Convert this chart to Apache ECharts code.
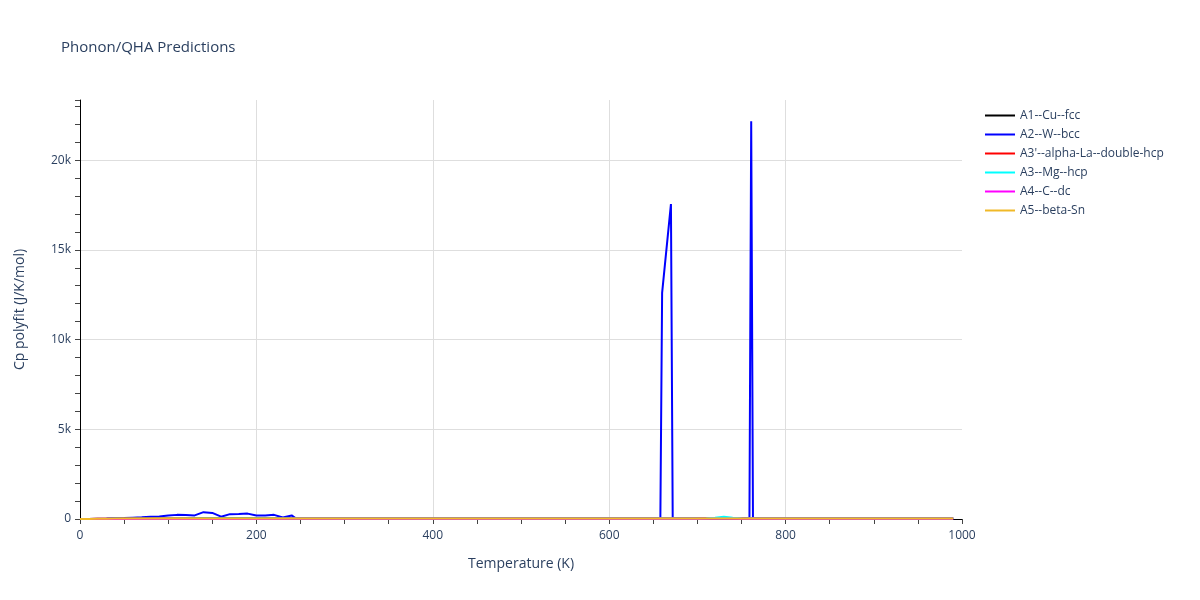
<!DOCTYPE html>
<html>
<head>
<meta charset="utf-8">
<script src="https://cdn.jsdelivr.net/npm/echarts@6/dist/echarts.min.js"></script>
<style>html,body{margin:0;padding:0;background:#fff}#c{width:1200px;height:600px}</style>
</head>
<body>
<div id="c"></div>
<script>
// ---- data ----
const seriesNames = ['A1--Cu--fcc', 'A2--W--bcc', "A3'--alpha-La--double-hcp", 'A3--Mg--hcp', 'A4--C--dc', 'A5--beta-Sn'];
const seriesColors = ['#000000', '#0000ff', '#ff0000', '#00ffff', '#ff00ff', '#f0b928'];

// common temperature grid for the smooth curves (K)
const tGrid = [0, 10, 20, 30, 40, 50, 75, 100, 150, 200, 250, 300, 350, 400, 450, 500, 550, 600, 650, 700, 710, 720, 730, 740, 750, 800, 850, 900, 950, 990];
const cpCu  = [0, 0.5, 2, 5, 8.5, 11.5, 16.5, 19.5, 22, 23.3, 24, 24.5, 24.9, 25.2, 25.5, 25.8, 26.1, 26.4, 26.7, 27, 27.1, 27.2, 27.3, 27.3, 27.4, 27.7, 28, 28.3, 28.6, 28.8];
const cpLa  = [0, 4, 11, 16, 19, 21, 23.5, 24.5, 25.5, 26, 26.5, 27, 27.3, 27.7, 28, 28.5, 29, 30, 32, 45, 55, 60, 50, 40, 34, 30, 30.5, 31, 31.5, 32];
const cpMg  = [0, 0.3, 1.5, 4, 7, 10, 15, 18.5, 21.5, 23, 23.8, 24.4, 24.9, 25.3, 25.7, 26.1, 26.5, 27, 27.8, 30, 40, 75, 120, 70, 35, 29.5, 30, 30.5, 31, 31.5];
const cpC   = [0, 0, 0.02, 0.05, 0.1, 0.2, 0.6, 1.4, 3.6, 5.8, 8, 10, 11.8, 13.3, 14.6, 15.6, 16.5, 17.3, 17.9, 18.4, 18.5, 18.6, 18.7, 18.8, 18.9, 19.3, 19.6, 19.9, 20.2, 20.4];
const cpSn  = [0, 6, 14, 18.5, 21, 22.3, 24, 25, 25.8, 26.3, 26.8, 27.2, 27.6, 28, 28.4, 28.8, 29.2, 29.6, 30, 30.4, 30.5, 30.6, 30.7, 30.8, 30.9, 31.3, 31.7, 32.1, 32.5, 32.8];

// W (bcc) has its own temperature points, with two sharp spikes
const tW  = [0, 10, 20, 30, 40, 50, 60, 70, 80, 90, 100, 110, 120, 130, 140, 150, 160, 170, 180, 190, 200, 210, 220, 230, 240, 245, 250, 300, 350, 400, 450, 500, 550, 600, 650, 658, 660, 670, 672, 700, 750, 759, 761, 763, 800, 850, 900, 950, 990];
const cpW = [0, 5, 15, 25, 40, 55, 75, 95, 120, 140, 190, 230, 220, 200, 380, 340, 130, 270, 280, 300, 190, 200, 230, 80, 200, 30, 24, 24.5, 25, 25.3, 25.6, 26, 26.3, 26.6, 27, 27, 12600, 17550, 27, 27.5, 28, 28, 22170, 28, 28.5, 29, 29.4, 29.8, 30.1];

// axis ticks
const xMin = 0, xMax = 1000, xStep = 200;
const yMin = 0, yMax = 23350, yStep = 5000, yMinorStep = 1000;

function pairs(xs, ys) { return xs.map((x, i) => [x, ys[i]]); }
const allData = [pairs(tGrid, cpCu), pairs(tW, cpW), pairs(tGrid, cpLa), pairs(tGrid, cpMg), pairs(tGrid, cpC), pairs(tGrid, cpSn)];

const textColor = '#2a3f5f';
const font = '"Open Sans", verdana, arial, sans-serif';

const chart = echarts.init(document.getElementById('c'), null, { renderer: 'canvas' });
chart.setOption({
  animation: false,
  backgroundColor: '#ffffff',
  textStyle: { fontFamily: font },
  title: {
    text: 'Phonon/QHA Predictions',
    left: 56, top: 35,
    textStyle: { fontFamily: font, fontSize: 15, fontWeight: 'normal', color: textColor }
  },
  legend: {
    orient: 'vertical',
    left: 980, top: 101,
    icon: 'rect',
    itemWidth: 30, itemHeight: 2,
    itemGap: 0,
    textStyle: { fontFamily: font, fontSize: 12, color: textColor, lineHeight: 19 },
    data: seriesNames
  },
  grid: { left: 80, right: 238, top: 100, bottom: 81, containLabel: false },
  xAxis: {
    type: 'value', min: xMin, max: xMax, interval: xStep,
    name: 'Temperature (K)', nameLocation: 'middle', nameGap: 38,
    nameTextStyle: { fontFamily: font, fontSize: 14, color: textColor },
    axisLine: { show: true, onZero: false, lineStyle: { color: '#000', width: 1 } },
    axisTick: { show: true, length: 5, lineStyle: { color: '#444' } },
    minorTick: { show: true, splitNumber: 4, length: 5, lineStyle: { color: '#444' } },
    axisLabel: { margin: 11, fontFamily: font, fontSize: 12, color: textColor, formatter: v => String(v) },
    splitLine: { show: true, showMinLine: false, showMaxLine: false, lineStyle: { color: '#dedede', width: 1 } }
  },
  yAxis: [{
    type: 'value', min: yMin, max: yMax, interval: yStep,
    name: 'Cp polyfit (J/K/mol)', nameLocation: 'middle', nameGap: 53,
    nameTextStyle: { fontFamily: font, fontSize: 14, color: textColor },
    axisLine: { show: true, onZero: false, lineStyle: { color: '#000', width: 1 } },
    axisTick: { show: false },
    axisLabel: {
      margin: 9, fontFamily: font, fontSize: 12, color: textColor, showMaxLabel: false,
      formatter: v => v === 0 ? '0' : (v / 1000) + 'k'
    },
    splitLine: { show: true, showMinLine: false, showMaxLine: false, lineStyle: { color: '#dedede', width: 1 } }
  }, {
    type: 'value', min: yMin, max: yMax, interval: yMinorStep, position: 'left', offset: 0,
    axisLine: { show: false },
    axisTick: { show: true, length: 5, lineStyle: { color: '#444' } },
    axisLabel: { show: false },
    splitLine: { show: false }
  }],
  series: seriesNames.map((n, i) => ({
    name: n, type: 'line', data: allData[i],
    showSymbol: false, symbol: 'none',
    color: seriesColors[i],
    lineStyle: { width: 2, color: seriesColors[i] },
    yAxisIndex: 0
  }))
});
</script>
</body>
</html>
